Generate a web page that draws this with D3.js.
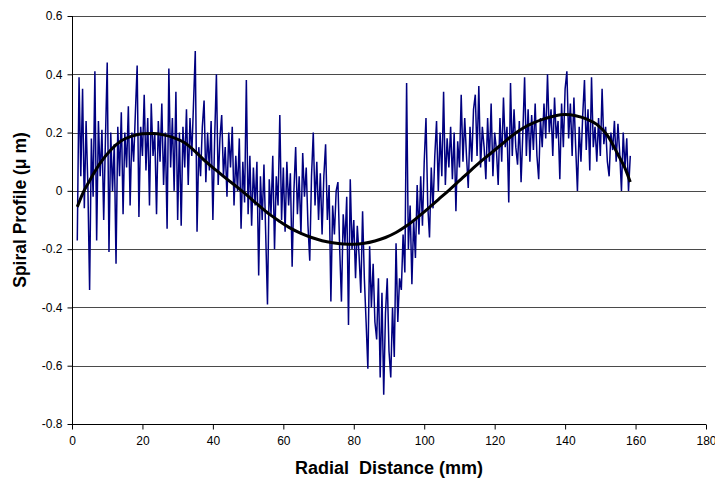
<!DOCTYPE html>
<html>
<head>
<meta charset="utf-8">
<script src="https://cdn.jsdelivr.net/npm/d3@7"></script>
<style>
  body { margin: 0; background: #fff; }
  svg { display: block; }
  text { font-family: Arial, "Liberation Sans", sans-serif; }
</style>
</head>
<body>
<div id="chart"></div>
<script>
// Measured spiral profile, sampled every 0.5 mm starting at 1.5 mm
const profileStart = 1.5;
const profileStep = 0.5;
const profile = [
  -0.17, 0.39, 0.05, 0.35, -0.06, 0.24, 0.02, -0.34, 0.18, -0.02,
  0.41, -0.17, 0.24, 0.05, 0.21, -0.10, 0.18, 0.44, -0.21, 0.20,
  0.00, 0.16, -0.25, 0.22, 0.05, 0.27, -0.08, 0.20, 0.08, 0.29,
  -0.05, 0.20, 0.10, 0.27, 0.43, -0.09, 0.22, 0.12, 0.33, 0.07,
  0.25, -0.05, 0.30, 0.12, 0.20, -0.08, 0.24, 0.10, 0.30, 0.02,
  0.20, -0.13, 0.42, 0.08, 0.25, 0.00, 0.34, -0.10, 0.20, -0.12,
  0.22, 0.08, 0.28, 0.02, 0.25, 0.12, 0.30, 0.48, -0.14, 0.15,
  0.05, 0.22, 0.31, 0.03, 0.20, 0.07, 0.24, -0.10, 0.18, 0.40,
  0.02, 0.18, 0.26, 0.05, 0.15, -0.02, 0.20, 0.08, 0.22, -0.05,
  0.12, 0.00, 0.18, -0.13, 0.10, -0.04, 0.38, -0.08, 0.12, -0.12,
  0.08, -0.05, 0.10, -0.29, 0.05, -0.10, 0.09, -0.15, -0.39, 0.04,
  -0.08, 0.12, -0.20, 0.05, -0.05, 0.26, -0.10, 0.08, -0.14, 0.10,
  -0.05, 0.06, -0.26, 0.00, 0.15, -0.08, 0.05, -0.15, 0.13, -0.02,
  0.08, -0.12, -0.24, 0.05, 0.20, -0.05, 0.10, -0.10, 0.06, -0.15,
  0.05, 0.16, -0.10, 0.02, -0.38, -0.05, -0.15, 0.00, 0.03, -0.20,
  -0.38, -0.08, -0.18, -0.02, -0.46, 0.04, -0.20, -0.10, -0.30, -0.12,
  -0.22, -0.35, -0.07, -0.30, -0.45, -0.61, -0.19, -0.40, -0.25, -0.45,
  -0.51, -0.30, -0.64, -0.35, -0.70, -0.42, -0.30, -0.55, -0.64, -0.40,
  -0.57, -0.18, -0.45, -0.30, -0.34, -0.15, -0.28, 0.37, -0.20, -0.05,
  -0.32, -0.10, -0.23, 0.02, -0.15, 0.05, -0.12, 0.10, 0.25, -0.05,
  -0.16, 0.08, -0.06, 0.12, 0.24, 0.00, 0.20, 0.05, 0.34, 0.02,
  0.18, 0.08, 0.22, 0.04, 0.20, -0.07, 0.17, 0.08, 0.33, 0.10,
  0.25, 0.12, 0.01, 0.22, 0.10, 0.28, 0.33, 0.12, 0.36, 0.08,
  0.22, 0.15, 0.04, 0.25, 0.10, 0.30, 0.05, 0.20, 0.14, 0.02,
  0.25, 0.10, 0.32, 0.15, 0.22, -0.04, 0.37, 0.12, 0.28, 0.15,
  0.09, 0.24, 0.03, 0.20, 0.39, 0.12, 0.28, 0.10, 0.26, 0.14,
  0.30, 0.12, 0.04, 0.25, 0.15, 0.30, 0.18, 0.40, 0.20, 0.28,
  0.12, 0.32, 0.18, 0.24, 0.04, 0.30, 0.15, 0.35, 0.41, 0.18,
  0.30, 0.12, 0.32, 0.15, 0.00, 0.22, 0.10, 0.26, 0.38, 0.14,
  0.28, 0.07, 0.39, 0.15, 0.22, 0.10, 0.25, 0.12, 0.35, 0.16,
  0.22, 0.10, 0.05, 0.20, 0.14, 0.24, 0.10, 0.23, 0.13, 0.00,
  0.20, 0.08, 0.18, 0.00, 0.12
];

// Trend curve
const trendX = [1.5, 3, 5, 8, 11, 14, 17, 20, 23, 26, 29, 32, 35, 38, 41, 44, 47, 50,
  53, 56, 59, 62, 65, 68, 71, 74, 77, 80, 83, 86, 89, 92, 95, 98, 101, 104, 107,
  110, 113, 116, 119, 122, 125, 128, 131, 134, 137, 140, 143, 146, 149, 152, 155, 157, 158.5];
const trendY = [-0.055, -0.01, 0.035, 0.095, 0.14, 0.172, 0.188, 0.196, 0.197, 0.192, 0.182,
  0.165, 0.135, 0.1, 0.07, 0.04, 0.012, -0.018, -0.05, -0.08, -0.105, -0.128, -0.146,
  -0.16, -0.171, -0.178, -0.182, -0.183, -0.18, -0.172, -0.16, -0.143, -0.12, -0.092,
  -0.062, -0.03, 0.002, 0.035, 0.068, 0.1, 0.13, 0.16, 0.19, 0.215, 0.233, 0.247,
  0.257, 0.262, 0.258, 0.247, 0.228, 0.19, 0.125, 0.078, 0.03];

const xTicks = [0, 20, 40, 60, 80, 100, 120, 140, 160, 180];
const yTicks = [-0.8, -0.6, -0.4, -0.2, 0, 0.2, 0.4, 0.6];

const width = 715, height = 481;
const margin = { left: 72, right: 9, top: 16, bottom: 57 };

const svg = d3.select("#chart").append("svg")
    .attr("width", width)
    .attr("height", height);

const x = d3.scaleLinear().domain([0, 180]).range([margin.left, width - margin.right]);
const y = d3.scaleLinear().domain([-0.8, 0.6]).range([height - margin.bottom, margin.top]);

// gridlines
svg.append("g")
    .selectAll("line")
    .data(yTicks.filter(d => d > -0.8))
    .enter().append("line")
    .attr("x1", x(0))
    .attr("x2", x(180))
    .attr("y1", d => Math.round(y(d)) + 0.5)
    .attr("y2", d => Math.round(y(d)) + 0.5)
    .attr("stroke", "#4a4a4a")
    .attr("stroke-width", 1);

const fmt = d => d === 0 ? "0" : d.toFixed(1).replace("\u2212", "-");

const yAxis = svg.append("g")
    .attr("transform", `translate(${margin.left + 0.5},0)`)
    .call(d3.axisLeft(y).tickValues(yTicks).tickFormat(fmt).tickSize(5).tickPadding(5));

const xAxis = svg.append("g")
    .attr("transform", `translate(0,${height - margin.bottom + 0.5})`)
    .call(d3.axisBottom(x).tickValues(xTicks).tickFormat(d3.format("d")).tickSize(5).tickPadding(7));

[yAxis, xAxis].forEach(a => {
    a.selectAll(".tick line").attr("stroke", "#000");
    a.selectAll(".tick text")
        .attr("fill", "#000")
        .style("font-size", "12px")
        .style("font-family", "Arial, 'Liberation Sans', sans-serif");
});
yAxis.select(".domain").attr("stroke", "#000").attr("d", `M0,${y(0.6)}V${y(-0.8)}`);
xAxis.select(".domain").attr("stroke", "#000").attr("d", `M${x(0)},0H${x(180)}`);

// noisy profile
const profileData = profile.map((v, i) => [profileStart + i * profileStep, v]);
svg.append("path")
    .datum(profileData)
    .attr("fill", "none")
    .attr("stroke", "#000080")
    .attr("stroke-width", 1.5)
    .attr("stroke-linejoin", "miter")
    .attr("d", d3.line().x(d => x(d[0])).y(d => y(d[1])));

// trend curve
const trendData = trendX.map((v, i) => [v, trendY[i]]);
svg.append("path")
    .datum(trendData)
    .attr("fill", "none")
    .attr("stroke", "#000")
    .attr("stroke-width", 3)
    .attr("d", d3.line().curve(d3.curveMonotoneX).x(d => x(d[0])).y(d => y(d[1])));

// axis titles
svg.append("text")
    .attr("x", (x(0) + x(180)) / 2)
    .attr("y", 474)
    .attr("text-anchor", "middle")
    .style("font-size", "18px")
    .style("font-weight", "bold")
    .text("Radial\u00a0 Distance (mm)");

svg.append("text")
    .attr("transform", "translate(26,210) rotate(-90)")
    .attr("text-anchor", "middle")
    .style("font-size", "17.5px")
    .style("font-weight", "bold")
    .text("Spiral Profile (\u03bc m)");
</script>
</body>
</html>
